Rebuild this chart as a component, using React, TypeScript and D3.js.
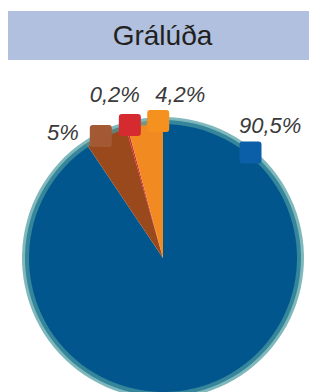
import React from "react";
import * as d3 from "d3";

const W = 309;
const H = 392;

// data
const categories = ["Blue", "Brown", "Red", "Orange"];
const values = [90.5, 5, 0.2, 4.2];
const valueLabels = ["90,5%", "5%", "0,2%", "4,2%"];
const colors = ["#04578d", "#9a4a1f", "#d4262e", "#f28a22"];
const swatchColors = ["#0a5fa8", "#a35a34", "#d42a30", "#f5921f"];

// where the swatch sits (angle in deg from 12 o'clock) and text offset from swatch centre
const LABEL_LAYOUT = [
  { angle: 39.7, dx: -11.5, dy: -20, anchor: "start" },
  { angle: -27, dx: -22, dy: 4, anchor: "end" },
  { angle: -14, dx: 10, dy: -23, anchor: "end" },
  { angle: -2, dx: -3, dy: -19, anchor: "start" },
];

const CX = 163;
const CY = 258;
const R = 140;

export default function App() {
  const data = categories.map((c, i) => ({ name: c, value: values[i], i }));
  const pie = d3.pie<any>().value((d) => d.value).sort(null);
  const arcs = pie(data);
  const arc = d3.arc<any>().innerRadius(0).outerRadius(R - 2);
  const rim = d3.arc<any>().innerRadius(R - 6).outerRadius(R + 1);

  return (
    <svg
      width={W}
      height={H}
      style={{ position: "absolute", left: 0, top: 0, background: "#fff" }}
    >
      <defs>
        <filter id="soft" x="-5%" y="-5%" width="110%" height="110%">
          <feGaussianBlur stdDeviation={0.7} />
        </filter>
      </defs>
      <rect x={8} y={11} width={301} height={49} fill="#b0c0de" />
      <text
        x={162.5}
        y={45}
        textAnchor="middle"
        fontFamily="Liberation Sans, Arial, sans-serif"
        fontSize={28}
        fill="#231f20"
      >
        Grálúða
      </text>

      <g transform={`translate(${CX},${CY})`} filter="url(#soft)">
        {arcs.map((a, i) => (
          <path key={i} d={arc(a) || ""} fill={colors[i]} />
        ))}
        {arcs.map((a, i) => (
          <path key={"r" + i} d={rim(a) || ""} fill="#4a9aa0" opacity={0.7} />
        ))}
      </g>

      {LABEL_LAYOUT.map((l, i) => {
        const rad = (l.angle * Math.PI) / 180;
        const sx = CX + 137 * Math.sin(rad);
        const sy = CY - 137 * Math.cos(rad);
        return (
          <g key={i}>
            <rect
              x={sx - 11}
              y={sy - 11}
              width={22}
              height={22}
              rx={3}
              fill={swatchColors[i]}
            />
            <text
              x={sx + l.dx}
              y={sy + l.dy}
              textAnchor={l.anchor}
              fontFamily="Liberation Sans, Arial, sans-serif"
              fontStyle="italic"
              fontSize={22}
              fill="#3a3a3a"
            >
              {valueLabels[i]}
            </text>
          </g>
        );
      })}
    </svg>
  );
}
